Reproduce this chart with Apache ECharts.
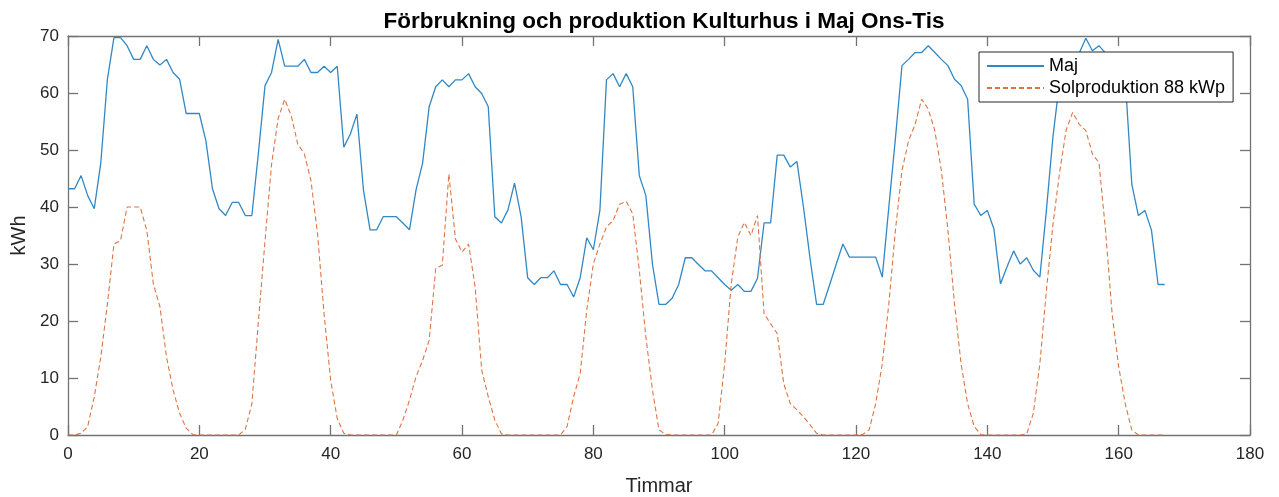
<!DOCTYPE html>
<html>
<head>
<meta charset="utf-8">
<script src="https://cdn.jsdelivr.net/npm/echarts@6/dist/echarts.min.js"></script>
<style>
  html, body { margin: 0; padding: 0; background: #ffffff; }
  #chart { width: 1279px; height: 497px; }
</style>
</head>
<body>
<div id="chart"></div>
<script>
// Hourly energy, hour 0 = Wednesday 00:00, through Tuesday 23:00 (168 hours)
const seriesNames = ['Maj', 'Solproduktion 88 kWp'];

// Consumption (kWh per hour)
const majValues = [
  43.2, 43.2, 45.5, 42.0, 39.7, 47.8, 62.4, 69.7, 69.7, 68.3,
  65.9, 65.9, 68.3, 65.9, 64.9, 65.9, 63.6, 62.4, 56.4, 56.4,
  56.4, 51.6, 43.2, 39.7, 38.5, 40.8, 40.8, 38.5, 38.5, 49.5,
  61.3, 63.6, 69.4, 64.7, 64.7, 64.7, 65.9, 63.6, 63.6, 64.7,
  63.6, 64.7, 50.5, 52.8, 56.3, 42.9, 36.0, 36.0, 38.3, 38.3,
  38.3, 37.2, 36.0, 43.0, 47.7, 57.6, 61.1, 62.3, 61.1, 62.3,
  62.3, 63.4, 61.1, 59.9, 57.6, 38.3, 37.2, 39.5, 44.2, 38.3,
  27.6, 26.4, 27.6, 27.6, 28.8, 26.4, 26.4, 24.2, 27.6, 34.6,
  32.5, 39.4, 62.3, 63.4, 61.1, 63.4, 61.1, 45.5, 42.0, 30.0,
  22.9, 22.9, 24.0, 26.4, 31.1, 31.1, 29.9, 28.8, 28.8, 27.6,
  26.4, 25.4, 26.4, 25.2, 25.2, 27.5, 37.2, 37.2, 49.1, 49.1,
  47.0, 48.0, 40.0, 31.0, 22.9, 22.9, 26.4, 30.0, 33.5, 31.2,
  31.2, 31.2, 31.2, 31.2, 27.7, 40.0, 52.0, 64.8, 65.9, 67.1,
  67.1, 68.3, 67.1, 65.9, 64.8, 62.4, 61.3, 58.9, 40.5, 38.5,
  39.4, 36.2, 26.5, 29.5, 32.3, 30.0, 31.1, 28.9, 27.7, 39.5,
  52.4, 62.0, 65.0, 66.0, 67.0, 69.6, 67.4, 68.3, 67.0, 66.0,
  65.0, 62.5, 44.0, 38.5, 39.4, 35.9, 26.4, 26.4
];

// Solar production from the 88 kWp plant (kWh per hour)
const solValues = [
  0, 0, 0.3, 1.5, 6.7, 13.7, 23.0, 33.5, 34.1, 40.0,
  40.0, 40.0, 35.9, 26.5, 22.5, 13.7, 7.9, 3.8, 1.2, 0.1,
  0, 0, 0, 0, 0, 0, 0, 1.0, 5.5, 20.0,
  34.0, 47.5, 55.5, 58.9, 56.0, 51.0, 49.3, 44.6, 35.3, 21.2,
  9.6, 2.9, 0.3, 0, 0, 0, 0, 0, 0, 0,
  0, 2.6, 6.1, 10.2, 13.1, 16.6, 29.2, 29.8, 45.8, 34.4,
  32.1, 33.5, 26.0, 11.4, 6.7, 2.6, 0.2, 0, 0, 0,
  0, 0, 0, 0, 0, 0, 1.5, 6.7, 10.8, 21.9,
  30.0, 33.5, 36.5, 37.6, 40.5, 41.0, 38.8, 28.9, 17.2, 7.9,
  0.9, 0.1, 0, 0, 0, 0, 0, 0, 0, 2.0,
  12.5, 26.5, 34.7, 37.3, 35.0, 38.5, 21.3, 19.5, 17.8, 9.0,
  5.5, 4.4, 3.2, 1.8, 0.3, 0, 0, 0, 0, 0,
  0, 0.1, 0.9, 5.5, 12.5, 23.0, 35.9, 46.4, 51.6, 54.5,
  58.9, 57.2, 53.4, 46.4, 35.9, 23.0, 12.5, 5.5, 1.5, 0.1,
  0, 0, 0, 0, 0, 0, 0.2, 3.8, 12.5, 25.4,
  37.0, 46.0, 53.5, 56.6, 54.5, 53.4, 49.3, 47.8, 35.9, 21.3,
  12.0, 5.5, 0.9, 0, 0, 0, 0, 0
];

const xRange = [0, 180, 20];   // min, max, tick step (hours)
const yRange = [0, 70, 10];    // min, max, tick step (kWh)

const toPairs = vals => vals.map((v, i) => [i, v]);

const FONT = '"Liberation Sans", Arial, Helvetica, sans-serif';
const AXIS_COLOR = '#737373';
const TEXT_COLOR = '#262626';

// Plot box in pixels
const GRID = { left: 68, right: 29, top: 36, bottom: 62 };
const PLOT_CENTER_X = GRID.left + (1279 - GRID.left - GRID.right) / 2;

function xAx(pos, showLabels) {
  return {
    type: 'value', position: pos, min: xRange[0], max: xRange[1], interval: xRange[2],
    name: showLabels ? 'Timmar' : '', nameLocation: 'middle', nameGap: 41,
    nameTextStyle: { fontSize: 20, color: TEXT_COLOR, fontFamily: FONT },
    axisLine: { show: true, onZero: false, lineStyle: { color: AXIS_COLOR, width: 1.3 } },
    axisTick: { show: true, inside: true, length: 10, lineStyle: { color: AXIS_COLOR, width: 1.3 } },
    axisLabel: { show: showLabels, margin: 11, fontSize: 17, color: TEXT_COLOR, fontFamily: FONT },
    splitLine: { show: false }
  };
}
function yAx(pos, showLabels) {
  return {
    type: 'value', position: pos, min: yRange[0], max: yRange[1], interval: yRange[2],
    name: showLabels ? 'kWh' : '', nameLocation: 'middle', nameGap: 39,
    nameTextStyle: { fontSize: 20, color: TEXT_COLOR, fontFamily: FONT },
    axisLine: { show: true, onZero: false, lineStyle: { color: AXIS_COLOR, width: 1.3 } },
    axisTick: { show: true, inside: true, length: 10, lineStyle: { color: AXIS_COLOR, width: 1.3 } },
    axisLabel: { show: showLabels, margin: 9, fontSize: 17, color: TEXT_COLOR, fontFamily: FONT },
    splitLine: { show: false }
  };
}

const chart = echarts.init(document.getElementById('chart'), null, { renderer: 'canvas' });
chart.setOption({
  animation: false,
  backgroundColor: '#ffffff',
  title: {
    text: 'Förbrukning och produktion Kulturhus i Maj Ons-Tis',
    left: PLOT_CENTER_X, textAlign: 'center', top: 5,
    textStyle: { fontSize: 22.5, fontWeight: 'bold', color: '#000000', fontFamily: FONT }
  },
  grid: Object.assign({ containLabel: false, outerBoundsMode: 'none' }, GRID),
  xAxis: [xAx('bottom', true), xAx('top', false)],
  yAxis: [yAx('left', true), yAx('right', false)],
  legend: {
    orient: 'vertical', left: 979, top: 52,
    itemWidth: 57, itemHeight: 14, itemGap: 4,
    padding: [5, 8, 5, 7],
    backgroundColor: '#ffffff', borderColor: '#262626', borderWidth: 1, borderRadius: 0,
    itemStyle: { opacity: 0 },
    textStyle: { fontSize: 18, color: '#000000', fontFamily: FONT },
    data: seriesNames
  },
  series: [
    {
      name: seriesNames[0], type: 'line', xAxisIndex: 0, yAxisIndex: 0,
      data: toPairs(majValues), symbol: 'none', showSymbol: false,
      lineStyle: { color: '#3188c6', width: 1.3 }, itemStyle: { color: '#3188c6' }
    },
    {
      name: seriesNames[1], type: 'line', xAxisIndex: 0, yAxisIndex: 0,
      data: toPairs(solValues), symbol: 'none', showSymbol: false,
      lineStyle: { color: '#de7444', width: 1.1, type: [5, 3] }, itemStyle: { color: '#de7444' }
    }
  ]
});
</script>
</body>
</html>
